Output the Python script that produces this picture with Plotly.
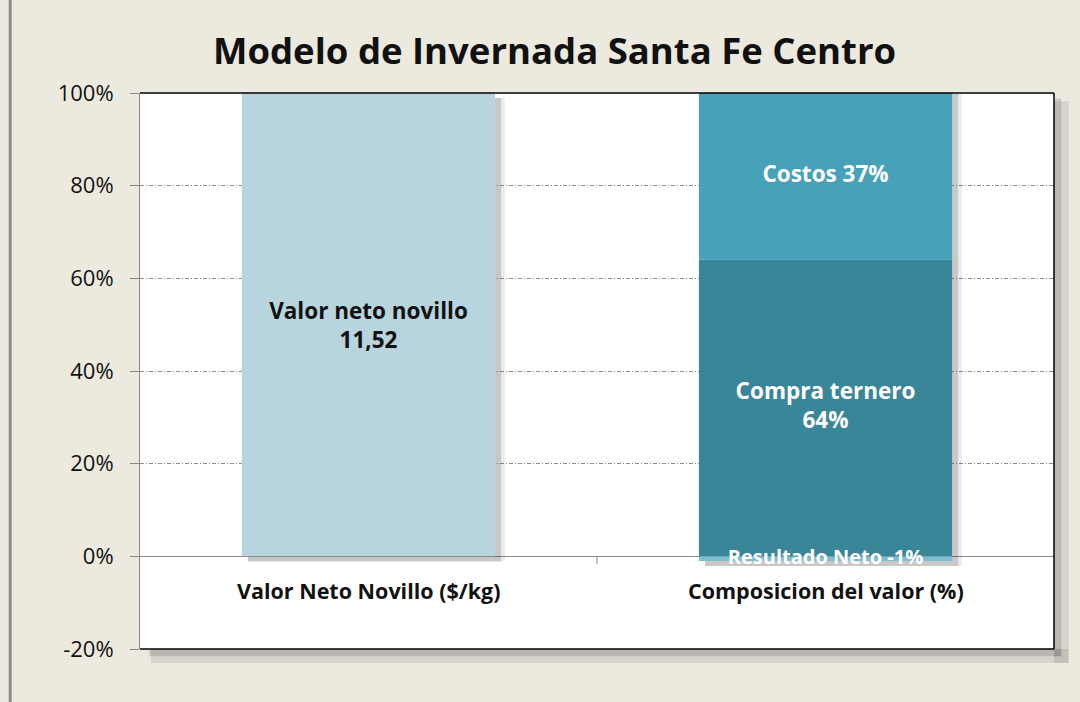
import numpy as np
import plotly.graph_objects as go

# Chart data
categories = ["Valor Neto Novillo ($/kg)", "Composicion del valor (%)"]
valor_neto_pct = [100]            # first column (full bar)
valor_neto_label = "11,52"        # $/kg
comp_names = ["Resultado Neto", "Compra ternero", "Costos"]
comp_values = [-1, 64, 37]        # % of the value
y_ticks = [-20, 0, 20, 40, 60, 80, 100]
y_ticktext = [f"{v}%" for v in y_ticks]
Y_RANGE = [-20, 100]

BG = "#ECE9DF"
FONT = "Open Sans"
BAR_W = 0.554

c_first = "#B7D4DF"
c_comp = {"Resultado Neto": "#7FBDD1", "Compra ternero": "#3A8699", "Costos": "#47A1B9"}

fig = go.Figure()

# stack bases for the composition column (negatives below zero, positives above)
vals = np.array(comp_values, dtype=float)
pos = np.where(vals > 0, vals, 0)
neg = np.where(vals < 0, vals, 0)
bases = np.where(vals > 0, np.cumsum(pos) - pos, np.cumsum(neg) - neg)

# soft drop shadows behind the columns
sh_dx = 6 / 457
sh_dy = 1.1
for alpha, grow in [(0.10, 0.008), (0.20, 0.0)]:
    fig.add_bar(x=[categories[0]], y=valor_neto_pct, base=[-sh_dy],
                width=BAR_W + grow, offset=-BAR_W / 2 + sh_dx,
                marker=dict(color=f"rgba(60,60,60,{alpha})", line_width=0),
                hoverinfo="skip", showlegend=False)
    fig.add_bar(x=[categories[1]], y=[pos.sum() - neg.min()],
                base=[neg.sum() - sh_dy],
                width=BAR_W + grow, offset=-BAR_W / 2 + sh_dx,
                marker=dict(color=f"rgba(60,60,60,{alpha})", line_width=0),
                hoverinfo="skip", showlegend=False)

# first column
fig.add_bar(x=[categories[0]], y=valor_neto_pct, base=[0], width=BAR_W,
            offset=-BAR_W / 2,
            marker=dict(color=c_first, line_width=0),
            text=[f"<b>Valor neto novillo<br>{valor_neto_label}</b>"],
            textposition="inside", insidetextanchor="middle",
            textfont=dict(family=FONT, size=22.5, color="#111111"),
            showlegend=False)

# composition column segments
lab_x, lab_y, lab_t, lab_size = [], [], [], []
for name, v, b in zip(comp_names, vals, bases):
    fig.add_bar(x=[categories[1]], y=[v], base=[b], width=BAR_W,
                offset=-BAR_W / 2, name=name,
                marker=dict(color=c_comp[name], line_width=0),
                showlegend=False)
    lo, hi = sorted([b, b + v])
    hi = min(hi, Y_RANGE[1])          # centre on the visible part
    lab_x.append(categories[1])
    lab_y.append((lo + hi) / 2)
    if name == "Compra ternero":
        lab_t.append(f"<b>{name}<br>{int(v)}%</b>")
    else:
        lab_t.append(f"<b>{name} {int(v)}%</b>")
    lab_size.append(20 if v < 0 else 22.5)

for x, y, t, s in zip(lab_x, lab_y, lab_t, lab_size):
    fig.add_trace(go.Scatter(x=[x], y=[y], text=[t], mode="text",
                             textposition="middle center",
                             textfont=dict(family=FONT, size=s, color="white"),
                             hoverinfo="skip", showlegend=False, cliponaxis=False))

# category names sit just under the zero line
annotations = []
for cat in categories:
    annotations.append(dict(x=cat, y=0, xref="x", yref="y", text=f"<b>{cat}</b>",
                            showarrow=False, yshift=-34,
                            font=dict(family=FONT, size=21.5, color="#111111")))

annotations.append(dict(x=0.453, y=1, xref="paper", yref="paper", yshift=43,
                        text="<b>Modelo de Invernada Santa Fe Centro</b>",
                        showarrow=False, xanchor="center", yanchor="middle",
                        font=dict(family=FONT, size=36.5, color="#111111")))

shapes = [
    # plot-area drop shadow (right and bottom strips)
    dict(type="rect", xref="paper", yref="paper", x0=1.0, x1=1.016, y0=-0.025, y1=0.985,
         fillcolor="rgba(90,90,90,0.15)", line_width=0, layer="below"),
    dict(type="rect", xref="paper", yref="paper", x0=0.012, x1=1.016, y0=-0.025, y1=0.0,
         fillcolor="rgba(90,90,90,0.15)", line_width=0, layer="below"),
    dict(type="rect", xref="paper", yref="paper", x0=1.0, x1=1.008, y0=-0.013, y1=0.99,
         fillcolor="rgba(90,90,90,0.22)", line_width=0, layer="below"),
    dict(type="rect", xref="paper", yref="paper", x0=0.01, x1=1.008, y0=-0.013, y1=0.0,
         fillcolor="rgba(90,90,90,0.22)", line_width=0, layer="below"),
    # plot-area frame (top, right, bottom)
    dict(type="line", xref="paper", yref="paper", x0=0, x1=1, y0=1, y1=1,
         line=dict(color="black", width=1.5)),
    dict(type="line", xref="paper", yref="paper", x0=1, x1=1, y0=0, y1=1,
         line=dict(color="black", width=1.5)),
    dict(type="line", xref="paper", yref="paper", x0=0, x1=1, y0=0, y1=0,
         line=dict(color="black", width=1.5)),
    # category divider tick on the zero line
    dict(type="line", xref="x", yref="y", x0=0.5, x1=0.5, y0=0, y1=-1.6,
         line=dict(color="#888888", width=1)),
    # outer chart border on the left
    dict(type="line", xref="paper", yref="paper", x0=-0.142, x1=-0.142, y0=-0.2, y1=1.3,
         line=dict(color="#8a8a8a", width=3)),
]

fig.update_layout(
    width=1080, height=702,
    margin=dict(l=140, r=26, t=93, b=53),
    paper_bgcolor=BG, plot_bgcolor="white",
    barmode="overlay",
    font=dict(family=FONT, color="#111111"),
    annotations=annotations,
    shapes=shapes,
    showlegend=False,
)
fig.update_xaxes(type="category", categoryarray=categories, range=[-0.5, 1.5],
                 showticklabels=False, showgrid=False, zeroline=False,
                 showline=False, ticks="")
fig.update_yaxes(range=Y_RANGE, tickmode="array", tickvals=y_ticks,
                 ticktext=y_ticktext,
                 ticks="outside", ticklen=9, tickcolor="#888888",
                 showline=True, linecolor="#888888", linewidth=1,
                 showgrid=True, gridcolor="#8c8c8c", gridwidth=1,
                 griddash="4px,2px,1px,2px",
                 zeroline=True, zerolinecolor="#8a8a8a", zerolinewidth=1,
                 ticklabelstandoff=12,
                 tickfont=dict(family=FONT, size=22, color="#111111"))

fig.write_html("out.html")
